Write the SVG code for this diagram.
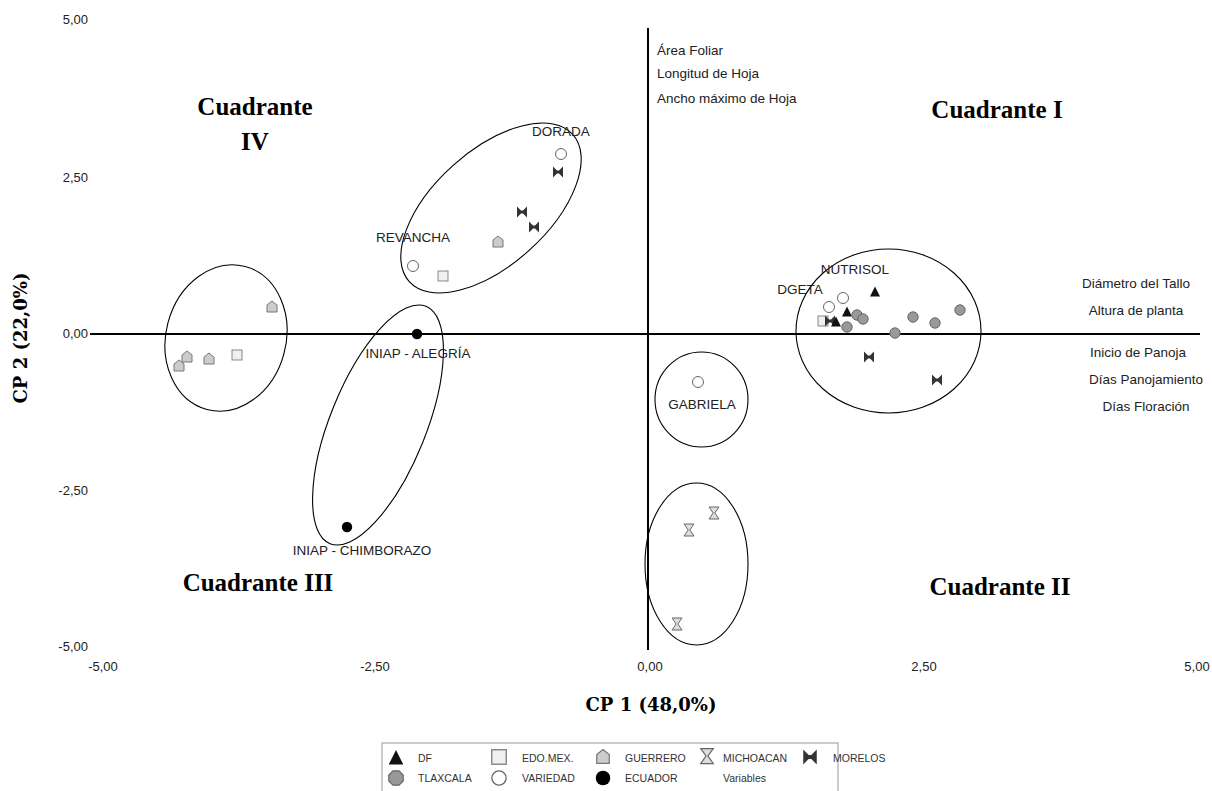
<svg xmlns="http://www.w3.org/2000/svg" xmlns:xlink="http://www.w3.org/1999/xlink" width="1212" height="791" viewBox="0 0 1212 791">
<style>
.tick{font-family:"Liberation Sans",Arial,sans-serif;font-size:13px;fill:#222}
.lbl{font-family:"Liberation Sans",Arial,sans-serif;font-size:13.5px;fill:#222}
.var{font-family:"Liberation Sans",Arial,sans-serif;font-size:13.5px;fill:#222}
.quad{font-family:"Liberation Serif","Times New Roman",serif;font-size:25px;font-weight:bold;fill:#000}
.axt{font-family:"DejaVu Serif",serif;font-size:18px;font-weight:bold;fill:#000}
.leg{font-family:"Liberation Sans",Arial,sans-serif;font-size:10.5px;fill:#333}
.ell{fill:none;stroke:#000;stroke-width:1.1}
.axis{stroke:#000;stroke-width:2}
</style>
<defs>
<path id="m-df" d="M0,-5.5 L5,4.5 L-5,4.5 Z" fill="#111"/>
<rect id="m-edo" x="-5" y="-5" width="10" height="10" fill="#f0f0f0" stroke="#888" stroke-width="1"/>
<path id="m-gue" d="M0,-6 L5,-2 L5,5 L-5,5 L-5,-2 Z" fill="#ccc" stroke="#777" stroke-width="1"/>
<path id="m-mich" d="M-5,-6 H5 L0.8,0 L5,6 H-5 L-0.8,0 Z" fill="#ddd" stroke="#666" stroke-width="1"/>
<path id="m-mor" d="M-5,-5.5 L-1,-1.5 H1 L5,-5.5 V5.5 L1,1.5 H-1 L-5,5.5 Z" fill="#333"/>
<circle id="m-tlax" r="5.2" fill="#999" stroke="#666" stroke-width="1"/>
<circle id="m-var" r="5.5" fill="#fff" stroke="#666" stroke-width="1"/>
<circle id="m-ecu" r="5.2" fill="#000"/>
<path id="m-tlax-oct" d="M-2.5,-6 H2.5 L6,-2.5 V2.5 L2.5,6 H-2.5 L-6,2.5 V-2.5 Z" fill="#999" stroke="#666" stroke-width="1"/>
</defs>
<rect width="1212" height="791" fill="#fff"/>

<g id="axes">
<line class="axis" x1="90" y1="334" x2="1200" y2="334"/>
<line class="axis" x1="648" y1="28" x2="648" y2="650"/>
<g class="tick" text-anchor="end">
<text x="88" y="24">5,00</text>
<text x="88" y="182">2,50</text>
<text x="88" y="338">0,00</text>
<text x="88" y="495">-2,50</text>
<text x="88" y="651">-5,00</text>
</g>
<g class="tick" text-anchor="middle">
<text x="103" y="671">-5,00</text>
<text x="375" y="671">-2,50</text>
<text x="650" y="671">0,00</text>
<text x="924" y="671">2,50</text>
<text x="1197" y="671">5,00</text>
</g>
<text class="axt" x="651" y="711" text-anchor="middle">CP 1 (48,0%)</text>
<text class="axt" transform="translate(27,338) rotate(-90)" text-anchor="middle">CP 2 (22,0%)</text>
</g>

<g id="quadrants" text-anchor="middle">
<text class="quad" x="255" y="115">Cuadrante</text>
<text class="quad" x="255" y="150">IV</text>
<text class="quad" x="997" y="118">Cuadrante I</text>
<text class="quad" x="258" y="591">Cuadrante III</text>
<text class="quad" x="1000" y="595">Cuadrante II</text>
</g>

<g id="variables">
<text class="var" x="657" y="55">Área Foliar</text>
<text class="var" x="657" y="78">Longitud de Hoja</text>
<text class="var" x="657" y="103">Ancho máximo de Hoja</text>
<g text-anchor="middle">
<text class="var" x="1136" y="288">Diámetro del Tallo</text>
<text class="var" x="1136" y="315">Altura de planta</text>
<text class="var" x="1138" y="357">Inicio de Panoja</text>
<text class="var" x="1146" y="384">Días Panojamiento</text>
<text class="var" x="1146" y="411">Días Floración</text>
</g>
</g>

<g id="cluster-left">
<ellipse class="ell" cx="226" cy="338" rx="60" ry="74" transform="rotate(15 226 338)"/>
<use href="#m-gue" x="272" y="307"/>
<use href="#m-gue" x="187" y="357"/>
<use href="#m-gue" x="179" y="366"/>
<use href="#m-gue" x="209" y="359"/>
<use href="#m-edo" x="237" y="355"/>
</g>

<g id="cluster-upper">
<ellipse class="ell" cx="491" cy="208" rx="57" ry="110" transform="rotate(48 491 208)"/>
<use href="#m-var" x="561" y="154"/>
<use href="#m-mor" x="558" y="172"/>
<use href="#m-mor" x="522" y="212"/>
<use href="#m-mor" x="534" y="227"/>
<use href="#m-gue" x="498" y="242"/>
<use href="#m-var" x="413" y="266"/>
<use href="#m-edo" x="443" y="276"/>
<text class="lbl" x="561" y="136" text-anchor="middle">DORADA</text>
<text class="lbl" x="413" y="242" text-anchor="middle">REVANCHA</text>
</g>

<g id="cluster-iniap">
<ellipse class="ell" cx="378" cy="425" rx="48" ry="128" transform="rotate(22 378 425)"/>
<use href="#m-ecu" x="417" y="334"/>
<use href="#m-ecu" x="347" y="527"/>
<text class="lbl" x="418" y="358" text-anchor="middle">INIAP - ALEGRÍA</text>
<text class="lbl" x="362" y="555" text-anchor="middle">INIAP - CHIMBORAZO</text>
</g>

<g id="cluster-gabriela">
<ellipse class="ell" cx="701.5" cy="399.5" rx="46.5" ry="47.5"/>
<use href="#m-var" x="698" y="382"/>
<text class="lbl" x="702" y="409" text-anchor="middle">GABRIELA</text>
</g>

<g id="cluster-michoacan">
<ellipse class="ell" cx="696.5" cy="564" rx="51.5" ry="81"/>
<use href="#m-mich" x="714" y="513"/>
<use href="#m-mich" x="689" y="530"/>
<use href="#m-mich" x="677" y="624"/>
</g>

<g id="cluster-right">
<ellipse class="ell" cx="888.5" cy="331" rx="92.5" ry="82"/>
<use href="#m-var" x="829" y="307"/>
<use href="#m-var" x="843" y="298"/>
<use href="#m-df" x="875" y="292"/>
<use href="#m-edo" x="823" y="321"/>
<use href="#m-mor" x="830" y="321"/>
<use href="#m-df" x="847" y="312"/>
<use href="#m-df" x="836" y="322"/>
<use href="#m-tlax" x="857" y="315"/>
<use href="#m-tlax" x="863" y="319"/>
<use href="#m-tlax" x="847" y="327"/>
<use href="#m-tlax" x="895" y="333"/>
<use href="#m-tlax" x="913" y="317"/>
<use href="#m-tlax" x="935" y="323"/>
<use href="#m-tlax" x="960" y="310"/>
<use href="#m-mor" x="869" y="357"/>
<use href="#m-mor" x="937" y="380"/>
<text class="lbl" x="855" y="274" text-anchor="middle">NUTRISOL</text>
<text class="lbl" x="800" y="294" text-anchor="middle">DGETA</text>
</g>

<g id="legend">
<rect x="382" y="743" width="456" height="60" fill="#fff" stroke="#999" stroke-width="1"/>
<use href="#m-df" transform="translate(396,758) scale(1.45)"/>
<use href="#m-edo" transform="translate(499,757) scale(1.45)"/>
<use href="#m-gue" transform="translate(603,757) scale(1.25)"/>
<use href="#m-mich" transform="translate(707,756) scale(1.25)"/>
<use href="#m-mor" transform="translate(810,757) scale(1.35)"/>
<use href="#m-tlax-oct" transform="translate(396,778) scale(1.2)"/>
<use href="#m-var" transform="translate(499,778) scale(1.3)"/>
<use href="#m-ecu" transform="translate(603,778) scale(1.4)"/>
<text class="leg" x="418" y="762">DF</text>
<text class="leg" x="522" y="762">EDO.MEX.</text>
<text class="leg" x="625" y="762">GUERRERO</text>
<text class="leg" x="723" y="762">MICHOACAN</text>
<text class="leg" x="833" y="762">MORELOS</text>
<text class="leg" x="418" y="782">TLAXCALA</text>
<text class="leg" x="522" y="782">VARIEDAD</text>
<text class="leg" x="625" y="782">ECUADOR</text>
<text class="leg" x="723" y="782">Variables</text>
</g>
</svg>
